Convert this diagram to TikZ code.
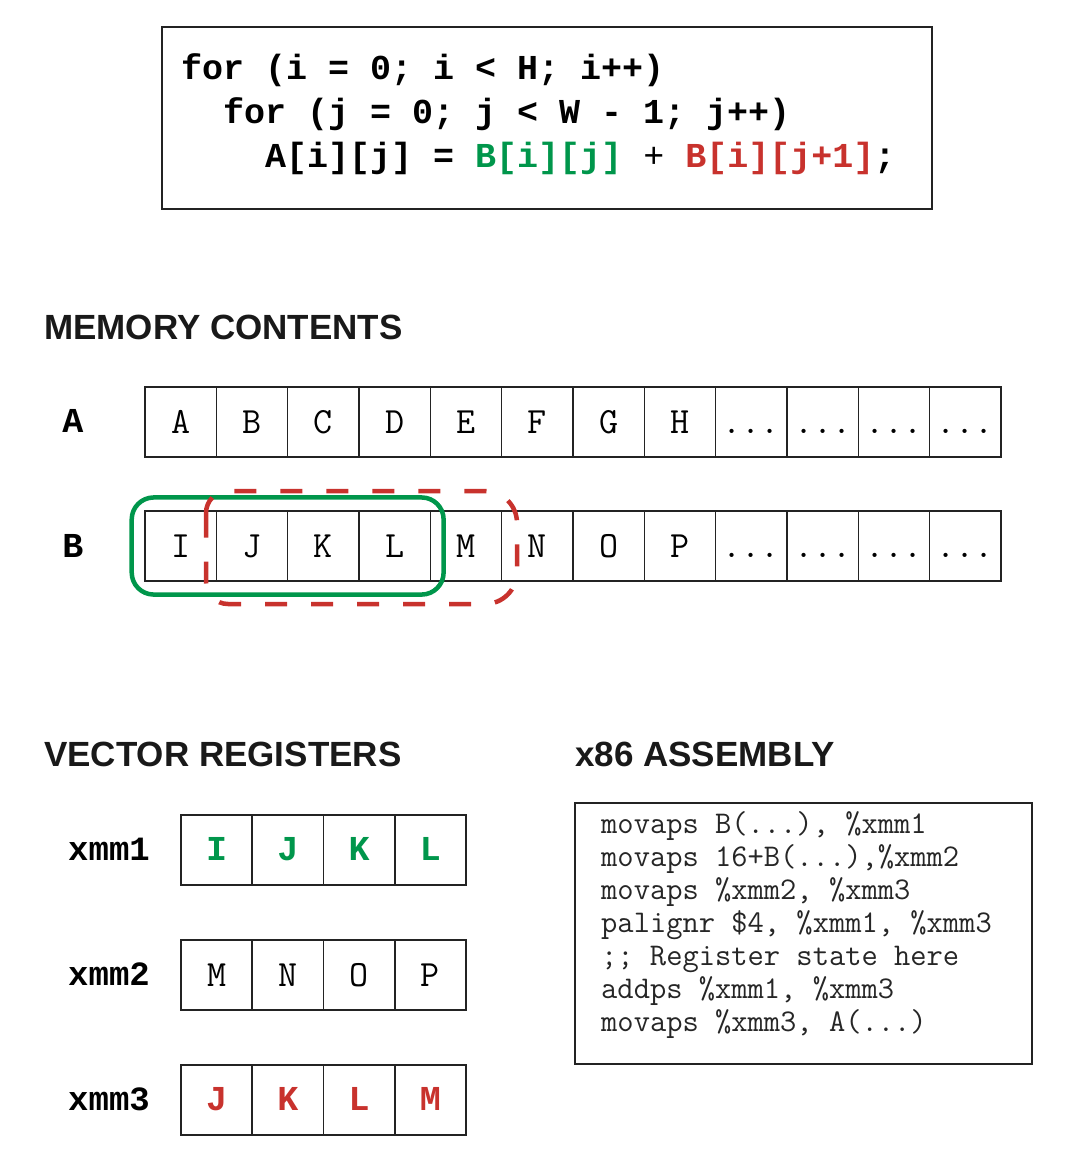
\documentclass[tikz,border=0pt]{standalone}
\usepackage{fontspec}
\setmainfont{Liberation Sans}
\setsansfont{Liberation Sans}
\newfontfamily\codemono{Liberation Mono}
\usetikzlibrary{fit}
\definecolor{cgreen}{RGB}{0,150,75}
\definecolor{cred}{RGB}{200,50,45}
\definecolor{cline}{RGB}{35,35,35}
\begin{document}
\begin{tikzpicture}[x=1pt,y=-1pt,
  codetxt/.style={inner sep=0pt, anchor=base west, font=\fontsize{35}{42}\selectfont\codemono\bfseries},
  heading/.style={inner sep=0pt, anchor=base west, font=\fontsize{35}{42}\selectfont\sffamily\bfseries, text=black!90},
  boxframe/.style={draw=cline, line width=1.8pt, inner sep=0pt, anchor=north west},
  cell/.style={draw=cline, line width=1.6pt, inner sep=0pt, minimum width=71.33pt, minimum height=70.5pt,
     text height=22pt, text depth=0pt, font=\fontsize{37}{42}\selectfont\ttfamily},
  rcell/.style={cell, minimum width=71.25pt},
  boldcell/.style={rcell, text height=21pt, font=\fontsize{35}{42}\selectfont\codemono\bfseries},
  rowlabel/.style={inner sep=0pt, anchor=base, font=\fontsize{35}{42}\selectfont\codemono\bfseries},
  reglabel/.style={inner sep=0pt, anchor=base west, font=\fontsize{34}{40}\selectfont\codemono\bfseries},
  asm/.style={inner sep=0pt, anchor=base west, font=\fontsize{31.6}{36}\selectfont\ttfamily, text=black!85},
  greenhl/.style={draw=cgreen, line width=4.5pt, rounded corners=22pt},
  redhl/.style={draw=cred, line width=4.5pt, dash pattern=on 22pt off 24pt}
]
\useasboundingbox (0,0) rectangle (1076,1176);

% code box
\node[boxframe, minimum width=770pt, minimum height=182pt] (codebox) at (161,26) {};
\node[codetxt] (c1) at (181,79) {for (i = 0; i < H; i++)};
\node[codetxt] (c2) at (223,123) {for (j = 0; j < W - 1; j++)};
\node[codetxt] (c3) at (265,167) {A[i][j] = {\color{cgreen}B[i][j]} {\mdseries+} {\color{cred}B[i][j+1]};};

% memory contents
\node[heading] (memh) at (44,339) {MEMORY CONTENTS};
\node[rowlabel] (labA) at (73,432) {A};
\node[rowlabel] (labB) at (73,557) {B};
\foreach \t [count=\k] in {A,B,C,D,E,F,G,H}
  \node[cell] (a\k) at ({145+71.33*(\k-0.5)},422) {\t};
\foreach \k in {9,10,11,12}
  \node[cell] (a\k) at ({145+71.33*(\k-0.5)},422) {...};
\foreach \t [count=\k] in {I,J,K,L,M,N,O,P}
  \node[cell] (b\k) at ({145+71.33*(\k-0.5)},546) {\t};
\foreach \k in {9,10,11,12}
  \node[cell] (b\k) at ({145+71.33*(\k-0.5)},546) {...};

% highlights
\node[greenhl, fit=(b1)(b4), inner sep=12.5pt] (greenbox) {};
\draw[redhl] (206,540) -- (206,513) [rounded corners=22pt] -- (206,491) [rounded corners=32pt] -- (517,491) -- (517,604) [rounded corners=22pt] -- (206,604) -- cycle;

% vector registers
\node[heading] (vech) at (44,766) {VECTOR REGISTERS};
\node[reglabel] (x1) at (68,860) {xmm1};
\node[reglabel] (x2) at (68,985) {xmm2};
\node[reglabel] (x3) at (68,1110) {xmm3};
\foreach \t [count=\k] in {I,J,K,L}
  \node[boldcell, text=cgreen] (r1\k) at ({181+71.25*(\k-0.5)},850) {\t};
\foreach \t [count=\k] in {M,N,O,P}
  \node[rcell] (r2\k) at ({181+71.25*(\k-0.5)},975) {\t};
\foreach \t [count=\k] in {J,K,L,M}
  \node[boldcell, text=cred] (r3\k) at ({181+71.25*(\k-0.5)},1100) {\t};

% assembly
\node[heading] (asmh) at (575,766) {x86 ASSEMBLY};
\node[boxframe, minimum width=457pt, minimum height=261pt] (asmbox) at (574,802) {};
\node[asm] (s1) at (601,833) {movaps B(...), \%xmm1};
\node[asm] (s2) at (601,866) {movaps 16+B(...),\%xmm2};
\node[asm] (s3) at (601,899) {movaps \%xmm2, \%xmm3};
\node[asm] (s4) at (601,932) {palignr \$4, \%xmm1, \%xmm3};
\node[asm] (s5) at (601,965) {;; Register state here};
\node[asm] (s6) at (601,998) {addps \%xmm1, \%xmm3};
\node[asm] (s7) at (601,1031) {movaps \%xmm3, A(...)};
\end{tikzpicture}
\end{document}
